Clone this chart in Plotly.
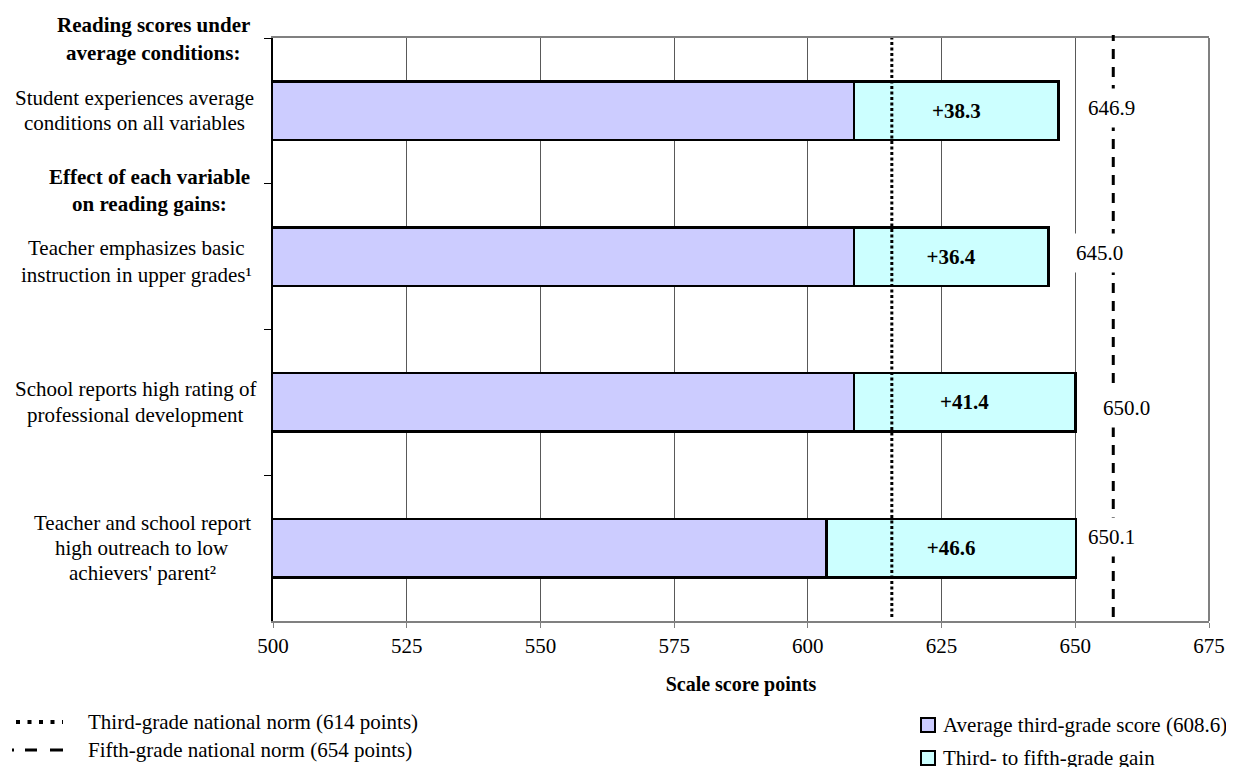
import plotly.graph_objects as go

# ---------------- data ----------------
categories = [
    "Student experiences average<br>conditions on all variables",
    "Teacher emphasizes basic<br>instruction in upper grades¹",
    "School reports high rating of<br>professional development",
    "Teacher and school report<br>high outreach to low<br>achievers' parent²",
]
base_scores = [608.6, 608.6, 608.6, 603.5]
gains = [38.3, 36.4, 41.4, 46.6]
headings = [
    "Reading scores under<br>average conditions:",
    "Effect of each variable<br>on reading gains:",
]
x_ticks = [500, 525, 550, 575, 600, 625, 650, 675]
third_norm_pos = 615.7   # position of dotted line as drawn
fifth_norm_pos = 657.1   # position of dashed line as drawn
legend_lines = [
    "Third-grade national norm (614 points)",
    "Fifth-grade national norm (654 points)",
]
legend_bars = ["Average third-grade score (608.6)", "Third- to fifth-grade gain"]
x_title = "Scale score points"

# ---------------- style / layout ----------------
FONT = "Liberation Serif, 'Times New Roman', Times, 'DejaVu Serif', serif"
FS = 21
OFF = 8                      # default page (body) margin of the html page
PAGE_W, PAGE_H = 1234, 767
W, H = PAGE_W - OFF, PAGE_H - OFF
# plot area in page pixels: x 273..1209, y 38..621
ML, MT = 273 - OFF, 38 - OFF
MR, MB = W - (1209 - OFF), H - (621 - OFF)
PW, PH = W - ML - MR, H - MT - MB
BASE_COLOR = "#CCCCFF"
GAIN_COLOR = "#CCFFFF"

def px_x(x):
    """page pixel x -> paper coordinate"""
    return (x - OFF - ML) / PW

def px_y(y):
    """page pixel y -> paper coordinate"""
    return (H - MB - (y - OFF)) / PH

# label block line positions (page pixels)
label_line_y = [[98.3, 123.3], [248.3, 274.5], [389.3, 415.0], [522.7, 548.3, 572.7]]
label_center_x = [134, 136, 135, 142]
heading_line_y = [[25, 53.3], [176.7, 204]]
heading_center_x = [153, 149]
total_dx = [28.2, 26.4, 26.7, 11.2]
total_dy = [3, 3.6, -5.6, 11]
BORDERPAD = 7

totals = [b + g for b, g in zip(base_scores, gains)]

fig = go.Figure()
fig.add_trace(go.Bar(
    y=categories, x=base_scores, orientation="h", name=legend_bars[0],
    marker=dict(color=BASE_COLOR, line=dict(color="black", width=2.5)),
    showlegend=False,
))
fig.add_trace(go.Bar(
    y=categories, x=gains, orientation="h", name=legend_bars[1],
    marker=dict(color=GAIN_COLOR, line=dict(color="black", width=2.5)),
    text=[f"+{g:.1f}" for g in gains], textposition="inside",
    insidetextanchor="middle", textangle=0, constraintext="none",
    textfont=dict(family=FONT, size=FS, color="black", weight="bold"),
    showlegend=False,
))

shapes = []
# norm lines
shapes.append(dict(type="line", xref="x", yref="paper", x0=third_norm_pos, x1=third_norm_pos,
                   y0=px_y(617), y1=1.0, layer="above",
                   line=dict(color="black", width=3, dash="3px,2.5px")))
shapes.append(dict(type="line", xref="x", yref="paper", x0=fifth_norm_pos, x1=fifth_norm_pos,
                   y0=px_y(617), y1=px_y(35), layer="above",
                   line=dict(color="black", width=3, dash="10px,8px")))
# right frame
shapes.append(dict(type="line", xref="paper", yref="paper", x0=1, x1=1, y0=0, y1=1,
                   line=dict(color="#808080", width=2), layer="below"))
# legend keys (lines)
shapes.append(dict(type="line", xref="paper", yref="paper", x0=px_x(16), x1=px_x(63),
                   y0=px_y(722), y1=px_y(722),
                   line=dict(color="black", width=4, dash="4px,7.5px")))
shapes.append(dict(type="line", xref="paper", yref="paper", x0=px_x(12), x1=px_x(63),
                   y0=px_y(750), y1=px_y(750),
                   line=dict(color="black", width=3, dash="2px,11px,12px,13px,13px")))
# legend keys (bars)
for yc, col in zip([725, 758], [BASE_COLOR, GAIN_COLOR]):
    shapes.append(dict(type="rect", xref="paper", yref="paper",
                       x0=px_x(921), x1=px_x(935), y0=px_y(yc + 7), y1=px_y(yc - 7),
                       fillcolor=col, line=dict(color="black", width=2)))

annotations = []
# category labels
for cat, ys, xc in zip(categories, label_line_y, label_center_x):
    for line, yy in zip(cat.split("<br>"), ys):
        annotations.append(dict(text=line, xref="paper", yref="paper", x=px_x(xc), y=px_y(yy),
                                xanchor="center", yanchor="middle", showarrow=False,
                                font=dict(family=FONT, size=FS, color="black")))
# headings
for hd, ys, xc in zip(headings, heading_line_y, heading_center_x):
    for line, yy in zip(hd.split("<br>"), ys):
        annotations.append(dict(text=f"<b>{line}</b>", xref="paper", yref="paper", x=px_x(xc),
                                y=px_y(yy), xanchor="center", yanchor="middle", showarrow=False,
                                font=dict(family=FONT, size=FS, color="black")))
# totals
for cat, tot, dx, dy in zip(categories, totals, total_dx, total_dy):
    annotations.append(dict(text=f"{tot:.1f}", xref="x", yref="y", x=tot, y=cat,
                            xanchor="left", yanchor="middle", xshift=dx - BORDERPAD, yshift=dy,
                            showarrow=False, bgcolor="white", borderpad=BORDERPAD,
                            font=dict(family=FONT, size=FS, color="black")))
# legend text
for txt, yy in zip(legend_lines, [721.5, 749.5]):
    annotations.append(dict(text=txt, xref="paper", yref="paper", x=px_x(86), y=px_y(yy),
                            xanchor="left", yanchor="middle", showarrow=False,
                            font=dict(family=FONT, size=FS, color="black")))
for txt, yy in zip(legend_bars, [725, 758]):
    annotations.append(dict(text=txt, xref="paper", yref="paper", x=px_x(941), y=px_y(yy),
                            xanchor="left", yanchor="middle", showarrow=False,
                            font=dict(family=FONT, size=FS, color="black")))

fig.update_layout(
    width=W, height=H, margin=dict(l=ML, r=MR, t=MT, b=MB, autoexpand=False),
    paper_bgcolor="white", plot_bgcolor="white",
    barmode="stack", bargap=0.6,
    showlegend=False,
    font=dict(family=FONT, size=FS, color="black"),
    shapes=shapes, annotations=annotations,
    xaxis=dict(range=[500, 675], tickvals=x_ticks, ticktext=[str(t) for t in x_ticks],
               showgrid=True, gridcolor="#595959", gridwidth=1,
               showline=True, linecolor="#808080", linewidth=2, mirror=True,
               ticks="outside", ticklen=5, tickcolor="#808080", tickwidth=1,
               tickfont=dict(family=FONT, size=FS, color="black"),
               zeroline=False,
               title=dict(text=f"<b>{x_title}</b>", standoff=20,
                          font=dict(family=FONT, size=20, color="black"))),
    yaxis=dict(type="category", categoryorder="array", categoryarray=categories,
               range=[3.5, -0.5], showticklabels=False, showgrid=False,
               ticks="outside", tickson="boundaries", ticklen=7, tickcolor="black", tickwidth=1,
               showline=True, linecolor="black", linewidth=2, zeroline=False),
)

fig.write_html("out.html")
